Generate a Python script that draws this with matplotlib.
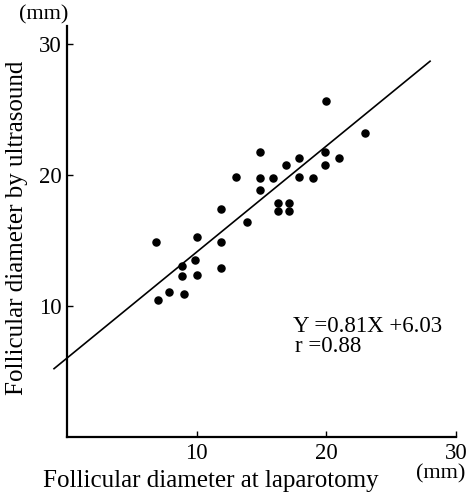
import numpy as np
import matplotlib
matplotlib.use("Agg")
import matplotlib.pyplot as plt

# ----------------------------------------------------------------------
# Data (mm)
# ----------------------------------------------------------------------
laparotomy = [6.9, 7.0, 7.9, 9.0, 8.9, 8.9, 9.9, 10.0, 10.0, 11.9, 11.9,
              11.9, 13.0, 13.9, 14.9, 14.9, 14.9, 15.9, 16.3, 16.3, 17.1,
              17.1, 16.9, 17.9, 17.9, 19.0, 20.0, 19.9, 19.9, 21.0, 23.0]
ultrasound = [14.9, 10.5, 11.1, 10.9, 13.1, 12.3, 13.5, 12.4, 15.3, 17.4, 14.9,
              12.9, 19.9, 16.4, 21.8, 19.8, 18.9, 19.8, 17.9, 17.3, 17.85,
              17.3, 20.8, 21.3, 19.85, 19.8, 25.7, 21.8, 20.8, 21.3, 23.2]

slope, intercept = 0.81, 6.03
fit_range = [-1.0, 28.0]
tick_values = [10, 20, 30]

plt.rcParams['font.family'] = ['Liberation Serif', 'DejaVu Serif']

W, H = 471, 493
fig = plt.figure(figsize=(W / 100, H / 100), dpi=100)

# axes box in pixels: left 67, right 456, bottom 437, top 26
ax = fig.add_axes([67 / W, (H - 437) / H, (456 - 67) / W, (437 - 26) / H])
ax.set_xlim(0, 30)
ax.set_ylim(0, 31.4)

# regression line (runs past the y axis on the left)
xf = np.array(fit_range)
ax.plot(xf, slope * xf + intercept, color='black', lw=1.2, clip_on=False)

# data points
ax.scatter(laparotomy, ultrasound, s=26, color='black', zorder=3)

for side in ['top', 'right']:
    ax.spines[side].set_visible(False)
for side in ['left', 'bottom']:
    ax.spines[side].set_linewidth(1.6)

ax.set_xticks(tick_values)
ax.set_yticks(tick_values)
ax.tick_params(direction='in', length=4, width=1.0, labelsize=16.5, pad=4)

# equation text
fig.text(293 / W, (H - 332) / H, 'Y =0.81X +6.03', fontsize=16.5, va='baseline')
fig.text(295 / W, (H - 352) / H, 'r =0.88', fontsize=16.5, va='baseline')

# axis labels
fig.text(43 / W, (H - 487) / H, 'Follicular diameter at laparotomy',
         fontsize=18, va='baseline', ha='left')
fig.text(441 / W, (H - 478) / H, '(mm)', fontsize=16, va='baseline', ha='center')
fig.text(17 / W, (H - 228) / H, 'Follicular diameter by ultrasound',
         fontsize=18, rotation=90, va='center', ha='center')
fig.text(44 / W, (H - 15) / H, '(mm)', fontsize=16, va='center', ha='center')

fig.savefig('out.png', dpi=100)
